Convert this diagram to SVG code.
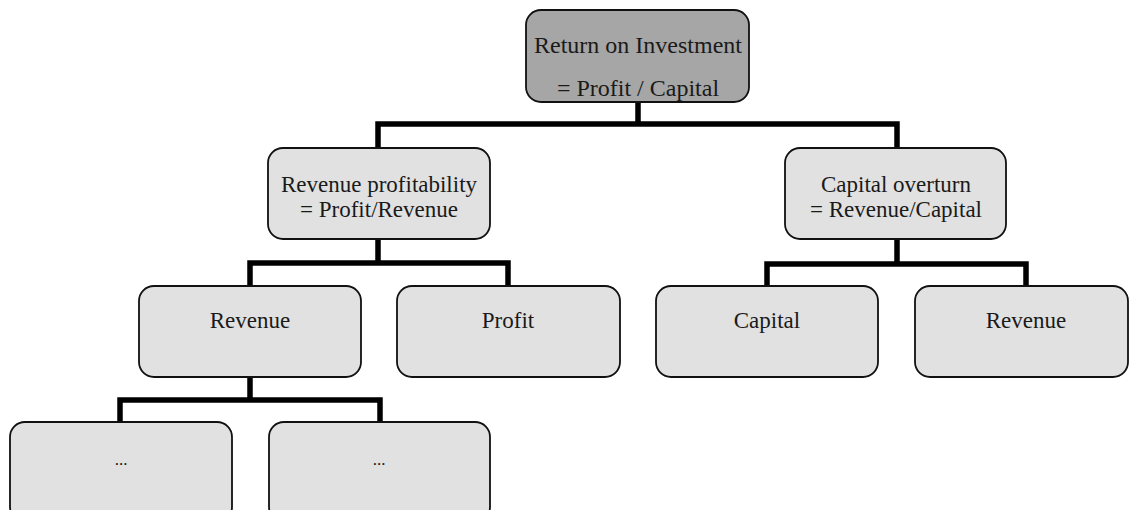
<svg xmlns="http://www.w3.org/2000/svg" width="1132" height="510" viewBox="0 0 1132 510">
<style>
.box{fill:#e1e1e1;stroke:#111;stroke-width:1.8}
.top{fill:#a6a6a6;stroke:#111;stroke-width:1.8}
.t{font-family:"Liberation Serif",serif;font-size:23px;fill:#1a1a1a;text-anchor:middle}
.tt{font-family:"Liberation Serif",serif;font-size:24px;fill:#1a1a1a;text-anchor:middle}
.d{font-family:"Liberation Serif",serif;font-size:17px;fill:#1a1a1a;text-anchor:middle}
.c{fill:none;stroke:#000;stroke-width:5.5;stroke-linejoin:miter}
</style>
<rect width="1132" height="510" fill="#ffffff"/>
<g id="connectors">
<path class="c" d="M638 102V124M378 148V124H897V148"/>
<path class="c" d="M378 239V263M250 286V263H508V286"/>
<path class="c" d="M897 239V264M767 286V264H1026V286"/>
<path class="c" d="M250 377V400M120 422V400H380V422"/>
</g>
<g id="roi">
<rect class="top" x="526" y="10" width="223" height="92" rx="15"/>
<text class="tt" x="638" y="53">Return on Investment</text>
<text class="tt" x="638" y="96">= Profit / Capital</text>
</g>
<g id="revprof">
<rect class="box" x="268" y="148" width="222" height="91" rx="15"/>
<text class="t" x="379" y="192">Revenue profitability</text>
<text class="t" x="379" y="217">= Profit/Revenue</text>
</g>
<g id="capover">
<rect class="box" x="785" y="148" width="221" height="91" rx="15"/>
<text class="t" x="896" y="192">Capital overturn</text>
<text class="t" x="896" y="217">= Revenue/Capital</text>
</g>
<g id="revenue1">
<rect class="box" x="139" y="286" width="222" height="91" rx="15"/>
<text class="t" x="250" y="328">Revenue</text>
</g>
<g id="profit">
<rect class="box" x="397" y="286" width="223" height="91" rx="15"/>
<text class="t" x="508" y="328">Profit</text>
</g>
<g id="capital">
<rect class="box" x="656" y="286" width="222" height="91" rx="15"/>
<text class="t" x="767" y="328">Capital</text>
</g>
<g id="revenue2">
<rect class="box" x="915" y="286" width="213" height="91" rx="15"/>
<text class="t" x="1026" y="328">Revenue</text>
</g>
<g id="dots1">
<rect class="box" x="10" y="422" width="222" height="100" rx="15"/>
<text class="d" x="121" y="465">...</text>
</g>
<g id="dots2">
<rect class="box" x="269" y="422" width="221" height="100" rx="15"/>
<text class="d" x="379" y="465">...</text>
</g>
</svg>
